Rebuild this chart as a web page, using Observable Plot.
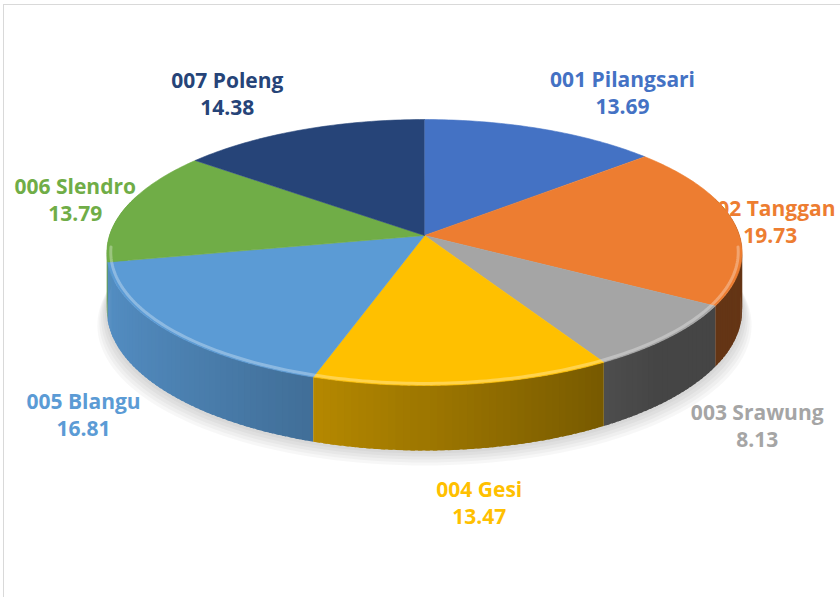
<!DOCTYPE html>
<html><head><meta charset="utf-8">
<script src="https://cdn.jsdelivr.net/npm/d3@7"></script>
<script src="https://cdn.jsdelivr.net/npm/@observablehq/plot@0.6"></script>
<style>
html,body{margin:0;padding:0;background:#fff;overflow:hidden;width:840px;height:597px}
#chart{position:absolute;left:0;top:0}
#frame{position:absolute;left:3px;top:4px;width:900px;height:700px;border:1px solid #d9d9d9;box-sizing:border-box;pointer-events:none}
</style></head><body>
<div id="chart"></div><div id="frame"></div>
<script>
// ---- data ----
const categories = ["001 Pilangsari","002 Tanggan","003 Srawung","004 Gesi","005 Blangu","006 Slendro","007 Poleng"];
const values = [13.69, 19.73, 8.13, 13.47, 16.81, 13.79, 14.38];
const colors = ["#4472C4","#ED7D31","#A5A5A5","#FFC000","#5B9BD5","#70AD47","#264478"];

// ---- 3D projection settings ----
const W = 840, H = 597;
const RX = 315, RY = 130.8, CX = 424, CY = 235;
const K = 0.128;      // perspective strength
const DEPTH = 0.4335; // thickness in y units
const FONT = 21;

function proj(theta, level, r = 1) {
  const u = Math.sin(theta) * r, v = -Math.cos(theta) * r;
  const d = 1 / (1 - K * v);
  return {x: u * d, y: v * d + level * DEPTH * d};
}
function shade(c, f) {
  const q = d3.rgb(c);
  return d3.rgb(q.r * f, q.g * f, q.b * f).formatHex();
}

const total = d3.sum(values);
let acc = 0;
const slices = values.map((v, i) => {
  const a0 = acc / total * 2 * Math.PI;
  acc += v;
  const a1 = acc / total * 2 * Math.PI;
  return {i, name: categories[i], value: v, color: colors[i], a0, a1};
});

// top faces
const topPts = [];
for (const s of slices) {
  const c = proj(0, 0, 0);
  topPts.push({id: "t" + s.i, x: c.x, y: c.y, fill: s.color});
  const n = Math.max(4, Math.ceil((s.a1 - s.a0) / (Math.PI / 180)));
  for (let j = 0; j <= n; j++) {
    const p = proj(s.a0 + (s.a1 - s.a0) * j / n, 0);
    topPts.push({id: "t" + s.i, x: p.x, y: p.y, fill: s.color});
  }
}

// side segments (overlapping slightly to hide seams)
const segs = [];
const step = Math.PI / 180 * 1.2;
for (const s of slices) {
  const n = Math.max(1, Math.ceil((s.a1 - s.a0) / step));
  const dt = (s.a1 - s.a0) / n;
  for (let j = 0; j < n; j++) {
    const t0 = s.a0 + dt * j;
    const t1 = Math.min(s.a1, t0 + dt * 1.6);
    const tm = t0 + dt / 2;
    const um = Math.sin(tm), vm = -Math.cos(tm);
    if (vm < -0.3) continue;
    const f = Math.max(0.42, Math.min(0.92, 0.62 - 0.3 * um));
    segs.push({key: s.i + "_" + j, v: vm, fill: shade(s.color, f), t0, t1});
  }
}
segs.sort((a, b) => a.v - b.v);
const sidePts = [];
for (const g of segs) {
  const p = [proj(g.t0, 0), proj(g.t1, 0), proj(g.t1, 1), proj(g.t0, 1)];
  for (const q of p) sidePts.push({id: g.key, x: q.x, y: q.y, fill: g.fill});
}

// soft shadow under the pie
const shadowPts = [];
[3, 6, 9, 12, 15].forEach((off, k) => {
  for (let j = 0; j <= 180; j++) {
    const p = proj(j / 180 * 2 * Math.PI, 1);
    shadowPts.push({id: "s" + k, x: p.x * (1 + off / 500), y: p.y + off / RY});
  }
});

// bevel highlight along the front rim
const hiPts = [];
for (let j = 0; j <= 170; j++) {
  const t = (95 + j) * Math.PI / 180;
  const p = proj(t, 0, 0.988);
  hiPts.push({x: p.x, y: p.y});
}

// labels
const ctx = document.createElement("canvas").getContext("2d");
ctx.font = `bold ${FONT}px "Open Sans"`;
const labels = slices.map(s => {
  const m = (s.a0 + s.a1) / 2;
  const u = Math.sin(m), v = -Math.cos(m);
  let px = CX + 5 + 1.47 * RX * u;
  const py = CY + 1.21 * RY * v + Math.max(0, v) * 110;
  const hw = ctx.measureText(s.name).width / 2;
  px = Math.max(14 + hw, Math.min(835 - hw, px));
  return {x: (px - CX) / RX, y: (py - CY) / RY, text: s.name + "\n" + s.value.toFixed(2), fill: s.color};
});

const chart = Plot.plot({
  width: W, height: H, margin: 0,
  x: {domain: [-CX / RX, (W - CX) / RX], range: [0, W], axis: null},
  y: {domain: [-CY / RY, (H - CY) / RY], range: [0, H], axis: null},
  style: {background: "transparent", overflow: "visible"},
  marks: [
    Plot.line(shadowPts, {x: "x", y: "y", z: "id", fill: "#000", fillOpacity: 0.03, stroke: "none"}),
    Plot.line(sidePts, {x: "x", y: "y", z: "id", fill: "fill", stroke: "none"}),
    Plot.line(topPts, {x: "x", y: "y", z: "id", fill: "fill", stroke: "fill", strokeWidth: 0.6}),
    Plot.line(hiPts, {x: "x", y: "y", stroke: "white", strokeOpacity: 0.3, strokeWidth: 3}),
    Plot.text(labels, {x: "x", y: "y", text: "text", fill: "fill", fontSize: FONT, fontWeight: "bold",
      fontFamily: "Open Sans", lineHeight: 27 / FONT, textAnchor: "middle"})
  ]
});
document.getElementById("chart").appendChild(chart);
</script>
</body></html>
